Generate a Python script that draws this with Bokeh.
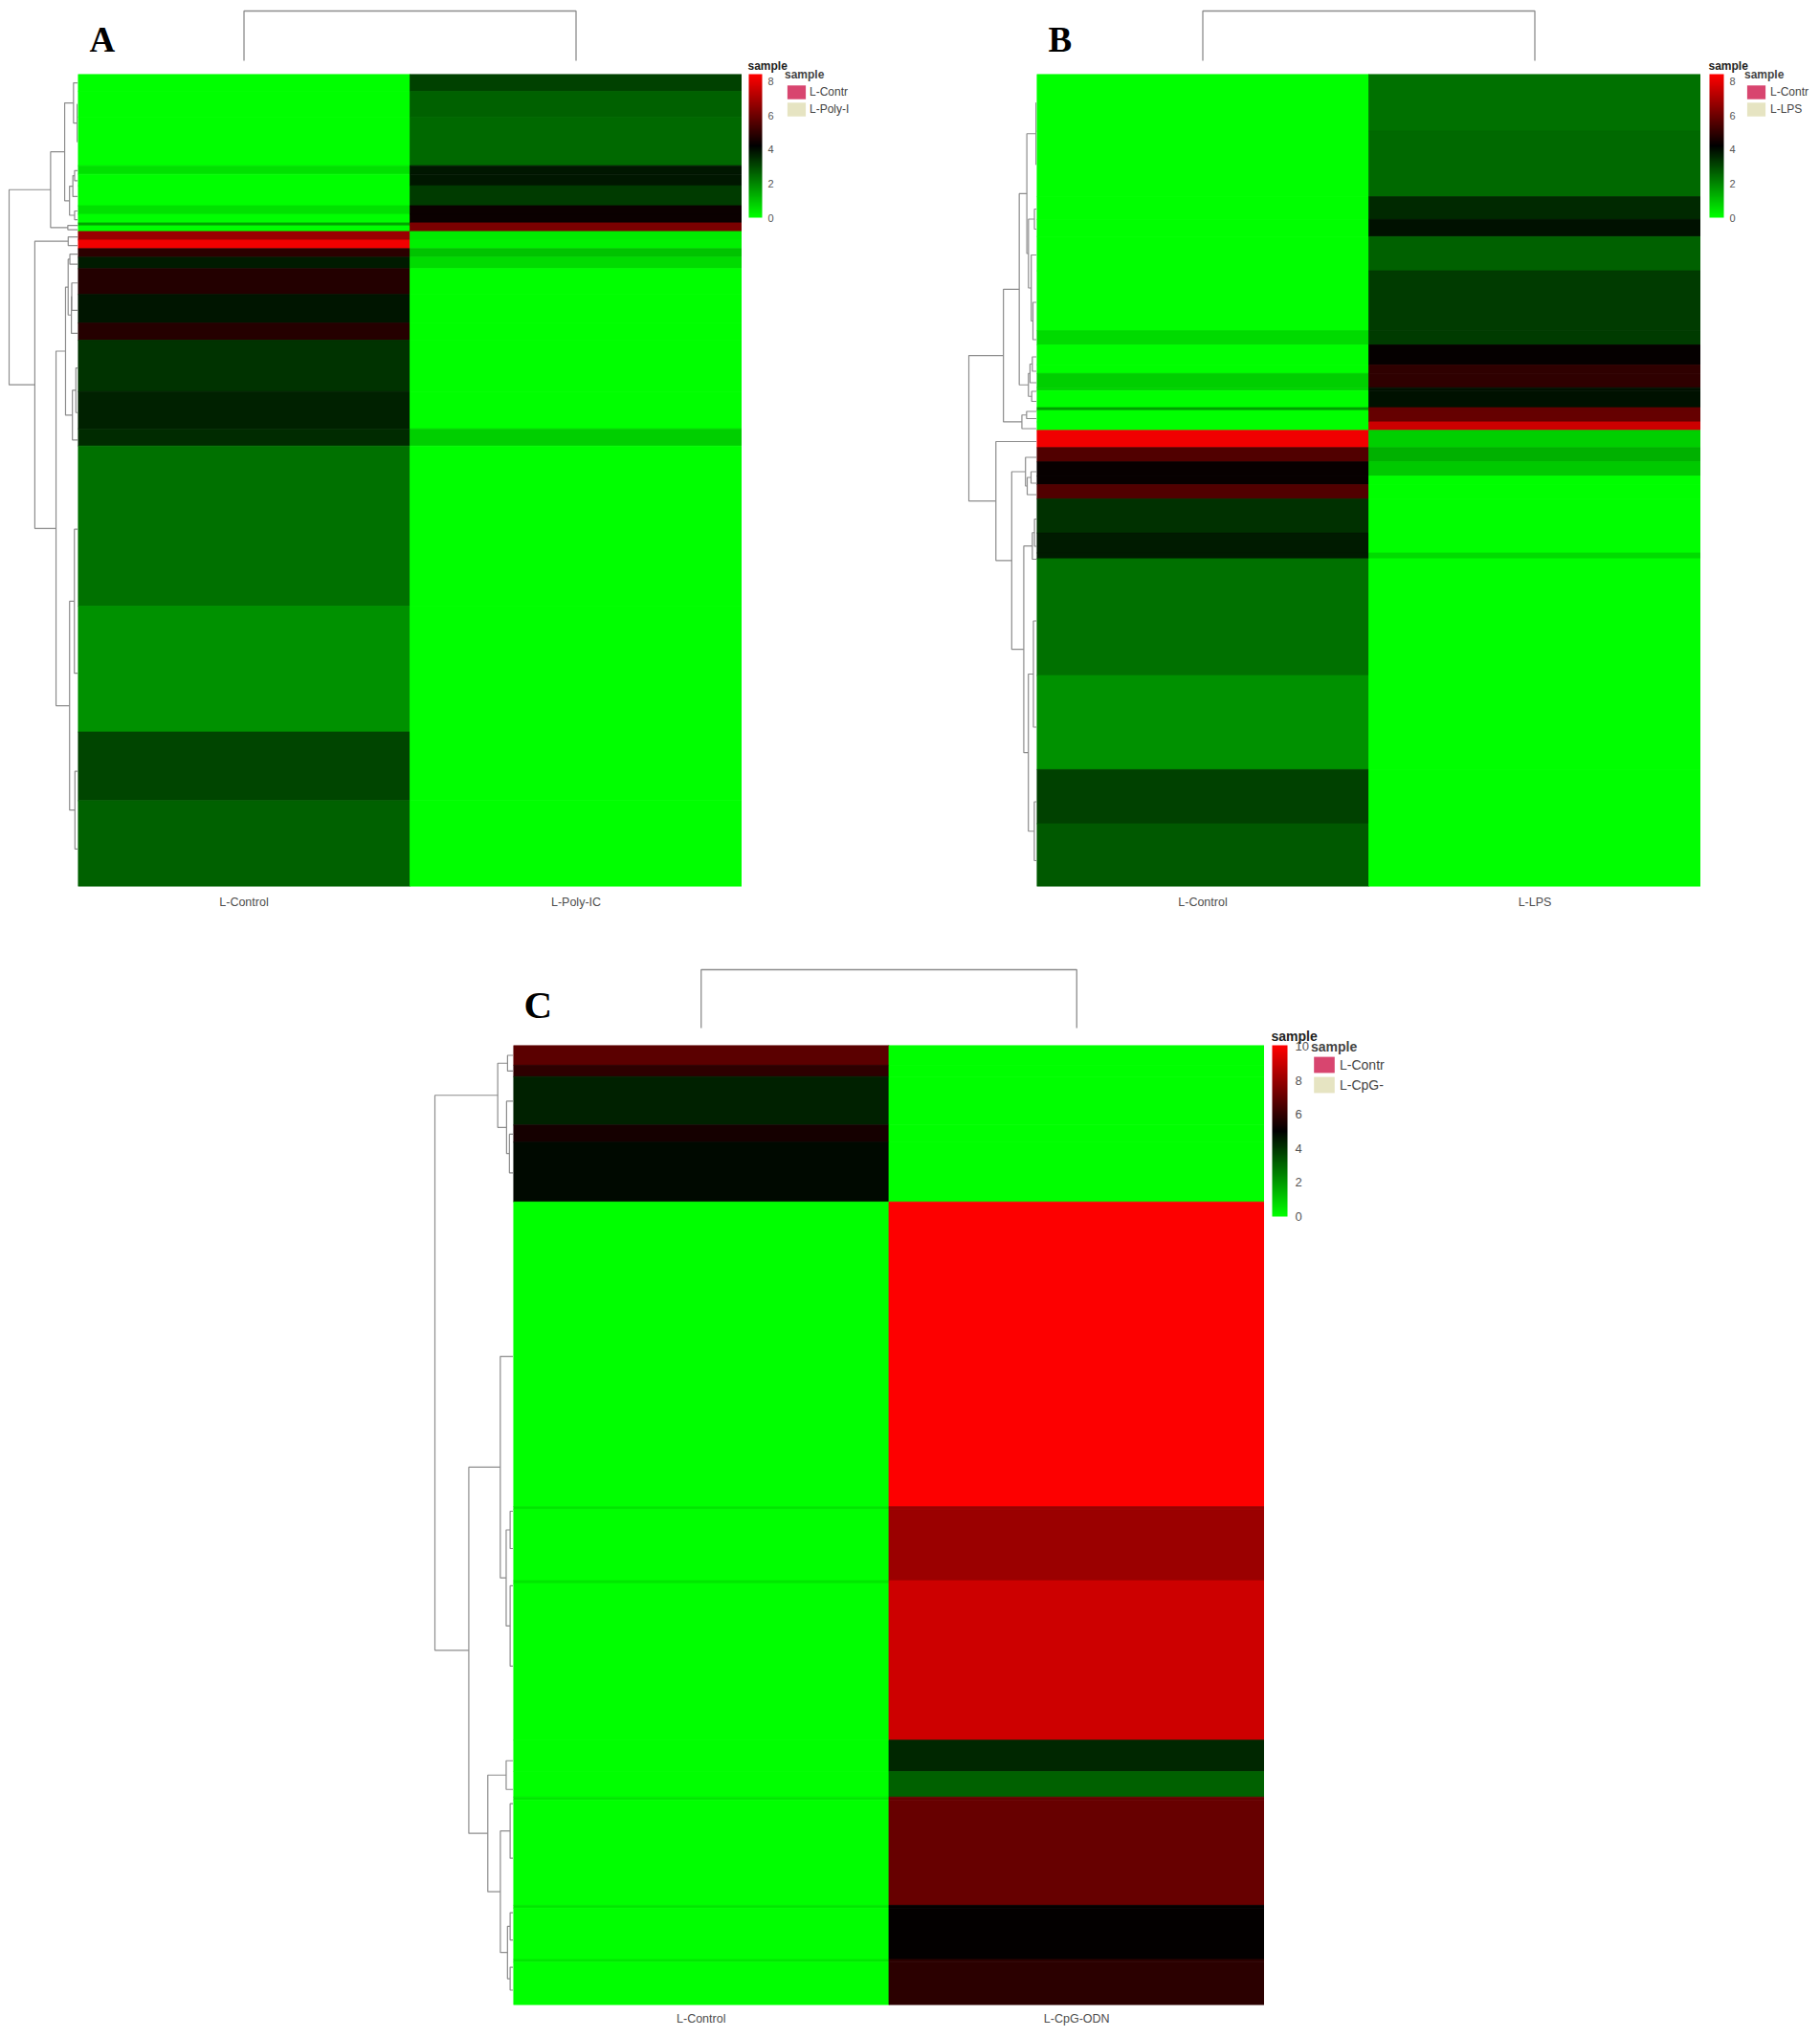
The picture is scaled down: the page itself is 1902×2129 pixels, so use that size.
import numpy as np
from bokeh.plotting import figure
from bokeh.models import (Range1d, FactorRange, LinearColorMapper, ColorBar, FixedTicker,
                          Label, Legend, LegendItem, Spacer, ColumnDataSource)
from bokeh.layouts import row, column
from bokeh.embed import file_html
from bokeh.resources import INLINE

# ---------------- data (bands of genes, top to bottom) ----------------
# Panel A : L-Control vs L-Poly-IC
a_samples = ["L-Control", "L-Poly-IC"]
a_legend = ["L-Contr", "L-Poly-I"]
a_genes = [6, 9, 17, 3, 4, 7, 3, 3, 1, 2, 3, 3, 3, 4, 9, 10, 6, 18, 13, 6, 56, 44, 24, 30]
a_control = [0, 0, 0, 0.5, 0, 0, 0.5, 0, 1.5, 0,
             6.76, 8.2, 4.92, 3.79, 4.79, 3.87, 4.84, 3.38, 3.69, 3.5,
             2.37, 1.84, 3.08, 2.63]
a_treated = [3.16, 2.63, 2.50, 3.83, 3.83, 3.26, 4.4, 4.4, 6.25, 6.25,
             0.35, 0.25, 1.0, 0.6, 0, 0, 0, 0, 0, 0.8,
             0, 0, 0, 0]
a_ticks = [0, 2, 4, 6, 8]
a_max = 8.45

# Panel B : L-Control vs L-LPS
b_samples = ["L-Control", "L-LPS"]
b_legend = ["L-Contr", "L-LPS"]
b_genes = [20, 23, 8, 6, 12, 21, 5, 7, 3, 5, 1, 6, 1, 4, 3, 6, 5, 5, 3, 5, 12, 7, 2, 41, 33, 19, 22]
b_control = [0, 0, 0, 0, 0, 0, 0.6, 0, 0, 0.8, 0.8, 0, 1.6, 0, 0,
             8.2, 5.55, 4.35, 4.35, 5.55, 3.43, 3.79, 3.79, 2.37, 1.84, 3.16, 2.77]
b_treated = [2.37, 2.5, 3.56, 3.93, 2.63, 3.26, 3.26, 4.3, 5.0, 5.0, 3.96, 3.96, 5.9, 5.9, 7.6,
             0.8, 1.3, 0.9, 0, 0, 0, 0, 0.6, 0, 0, 0, 0]
b_ticks = [0, 2, 4, 6, 8]
b_max = 8.45

# Panel C : L-Control vs L-CpG-ODN
c_samples = ["L-Control", "L-CpG-ODN"]
c_legend = ["L-Contr", "L-CpG-"]
c_genes = [7, 4, 17, 6, 21, 107, 1, 25, 1, 55, 11, 9, 1, 37, 1, 18, 1, 15]
c_control = [6.8, 5.9, 4.39, 5.44, 4.83, 0, 0.5, 0, 0.5, 0, 0, 0, 0.5, 0, 0.5, 0, 0.5, 0]
c_treated = [0, 0, 0, 0, 0, 10.0, 8.05, 8.05, 9.04, 9.04, 4.24, 3.13, 7.04, 7.04, 5.1, 5.1, 5.86, 5.86]
c_ticks = [0, 2, 4, 6, 8, 10]
c_max = 10.05

# ---------------- style ----------------
SANS = "Liberation Sans"
SERIF = "Liberation Serif"
TREE = "#8c8c8c"
PINK = "#d8456f"
PALE = "#e6e4c2"


def green_black_red(n=256):
    t = np.linspace(0, 1, n)
    r = np.clip(2 * t - 1, 0, 1) * 255
    g = np.clip(1 - 2 * t, 0, 1) * 255
    return ["#%02x%02x00" % (int(round(a)), int(round(b))) for a, b in zip(r, g)]


PALETTE = green_black_red()


def heat_table(samples, genes, ctrl, treat):
    edges = np.concatenate([[0], np.cumsum(genes)])
    mid = (edges[:-1] + edges[1:]) / 2.0
    n = len(genes)
    return dict(sample=[samples[0]] * n + [samples[1]] * n,
                mid=list(mid) * 2,
                n=list(genes) * 2,
                value=list(ctrl) + list(treat))


def row_dendrogram(genes, ctrl, treat):
    """Contiguity-constrained complete-linkage clustering of the row bands."""
    edges = np.concatenate([[0], np.cumsum(genes)])
    pts = np.column_stack([ctrl, treat]).astype(float)
    D = np.sqrt(((pts[:, None, :] - pts[None, :, :]) ** 2).sum(-1))
    clusters = [[i] for i in range(len(genes))]
    pos = list((edges[:-1] + edges[1:]) / 2.0)
    hgt = [0.0] * len(genes)
    xs, ys = [], []
    while len(clusters) > 1:
        dists = [D[np.ix_(clusters[k], clusters[k + 1])].max() for k in range(len(clusters) - 1)]
        k = int(np.argmin(dists))
        d = float(dists[k])
        xs.append([hgt[k], d, d, hgt[k + 1]])
        ys.append([pos[k], pos[k], pos[k + 1], pos[k + 1]])
        clusters[k:k + 2] = [clusters[k] + clusters[k + 1]]
        pos[k:k + 2] = [(pos[k] + pos[k + 1]) / 2.0]
        hgt[k:k + 2] = [d]
    return xs, ys, hgt[0]


def bare(fig):
    fig.xgrid.visible = False
    fig.ygrid.visible = False
    fig.outline_line_color = None
    return fig


def make_panel(letter, samples, legend_labels, genes, ctrl, treat, vmax, ticks, c):
    N = int(np.sum(genes))
    xr = FactorRange(*samples)
    yr = Range1d(N, 0)
    mapper = LinearColorMapper(palette=PALETTE, low=0, high=vmax)

    # heatmap
    heat = figure(width=c["heat_w"], height=c["heat_h"] + c["label_h"], x_range=xr, y_range=yr,
                  output_backend="svg", toolbar_location=None, y_axis_location=None,
                  min_border=0, min_border_bottom=c["label_h"])
    bare(heat)
    src = ColumnDataSource(heat_table(samples, genes, ctrl, treat))
    cmap = {"field": "value", "transform": mapper}
    heat.rect(x="sample", y="mid", width=1, height="n", source=src,
              fill_color=cmap, line_color=cmap, line_width=0.8)
    ax = heat.xaxis[0]
    ax.axis_line_color = None
    ax.major_tick_line_color = None
    ax.minor_tick_line_color = None
    ax.major_label_standoff = c["lab_standoff"]
    ax.major_label_text_font = SANS
    ax.major_label_text_font_size = c["lab_font"]
    ax.major_label_text_color = "#4d4d4d"

    # column dendrogram (top)
    colvals = np.array([ctrl, treat], dtype=float)
    dcol = float(np.sqrt(np.sum(np.array(genes) * (colvals[0] - colvals[1]) ** 2)))
    span = c["top_h"] - c["top_gap_top"] - c["top_gap_bottom"]
    top = figure(width=c["heat_w"], height=c["top_h"], x_range=xr,
                 y_range=Range1d(-dcol * c["top_gap_bottom"] / span, dcol * (1 + c["top_gap_top"] / span)),
                 output_backend="svg", toolbar_location=None, x_axis_location=None,
                 y_axis_location=None, min_border=0)
    bare(top)
    top.multi_line(xs=[[samples[0], samples[0], samples[1], samples[1]]], ys=[[0, dcol, dcol, 0]],
                   line_color=TREE, line_width=1.3)
    top.add_layout(Label(x=c["letter_x"], y=c["letter_y"], x_units="screen", y_units="screen",
                         text=letter, text_font=SERIF, text_font_style="bold",
                         text_font_size=c["letter_font"], text_color="black"))

    # row dendrogram (left)
    xs, ys, root = row_dendrogram(genes, ctrl, treat)
    w = c["dendro_w"]
    left = figure(width=w, height=c["heat_h"], y_range=yr,
                  x_range=Range1d(root * w / (w - c["root_px"]), 0),
                  output_backend="svg", toolbar_location=None, x_axis_location=None,
                  y_axis_location=None, min_border=0)
    bare(left)
    left.multi_line(xs=xs, ys=ys, line_color=TREE, line_width=1.2)

    # side: colour bar and sample legend
    side_h = c["top_h"] + c["heat_h"] + c["label_h"]
    side = figure(width=c["side_w"], height=side_h, x_range=Range1d(0, 1), y_range=Range1d(0, 1),
                  output_backend="svg", toolbar_location=None, x_axis_location=None,
                  y_axis_location=None, min_border=0)
    bare(side)
    cb = ColorBar(color_mapper=mapper, ticker=FixedTicker(ticks=ticks),
                  width=c["cb_w"], height=c["cb_h"],
                  location=(c["cb_x"], c["label_h"] + c["heat_h"] - c["cb_h"]),
                  padding=0, label_standoff=c["cb_standoff"], major_label_text_font=SANS,
                  major_label_text_font_size=c["tick_font"], major_label_text_color="#555555",
                  major_tick_line_color=None, minor_tick_line_color=None,
                  bar_line_color=None, border_line_color=None, background_fill_alpha=0)
    side.add_layout(cb)
    side.add_layout(Label(x=c["cb_x"] - 1, y=c["label_h"] + c["heat_h"] + c["cb_title_gap"],
                          x_units="screen", y_units="screen", text="sample",
                          text_font=SANS, text_font_style="bold", text_font_size=c["title_font"],
                          text_color="#222222"))
    r1 = side.rect(x=[-5], y=[-5], width=1, height=1, fill_color=PINK, line_color=None)
    r2 = side.rect(x=[-5], y=[-5], width=1, height=1, fill_color=PALE, line_color=None)
    leg = Legend(items=[LegendItem(label=legend_labels[0], renderers=[r1]),
                        LegendItem(label=legend_labels[1], renderers=[r2])],
                 location=(c["leg_x"], c["label_h"] + c["heat_h"] - c["leg_off"]),
                 title="sample", title_text_font=SANS, title_text_font_style="bold",
                 title_text_font_size=c["title_font"], title_standoff=c["title_standoff"],
                 label_text_font=SANS, label_text_font_size=c["leg_font"], label_text_color="#444444",
                 glyph_width=c["glyph"][0], glyph_height=c["glyph"][1], label_height=c["glyph"][1] - 3,
                 label_standoff=c["leg_standoff"], spacing=-3, padding=0, margin=0,
                 border_line_alpha=0, background_fill_alpha=0)
    side.add_layout(leg)

    return [column(Spacer(width=w, height=c["top_h"]), left),
            column(top, heat),
            side]


cfg_a = dict(dendro_w=73, root_px=1, heat_w=694, heat_h=855, top_h=69, top_gap_top=3,
             top_gap_bottom=14, label_h=20, lab_font="12.5px", lab_standoff=3,
             letter_x=12, letter_y=16, letter_font="37px",
             side_w=235, cb_x=7, cb_w=14, cb_h=150, cb_standoff=6, cb_title_gap=2,
             leg_x=45, leg_off=46, leg_font="12px", tick_font="11px", title_font="12px",
             title_standoff=2, glyph=(24, 18), leg_standoff=2)
cfg_b = dict(cfg_a, side_w=117, cb_x=9, cb_w=15, leg_x=46, leg_standoff=3, root_px=2)
cfg_c = dict(dendro_w=86, root_px=4, heat_w=785, heat_h=1010, top_h=93, top_gap_top=14,
             top_gap_bottom=18, label_h=17, lab_font="12.5px", lab_standoff=1,
             letter_x=11, letter_y=20, letter_font="41px",
             side_w=200, cb_x=8, cb_w=16, cb_h=179, cb_standoff=8, cb_title_gap=2,
             leg_x=49, leg_off=52, leg_font="14px", tick_font="13px", title_font="14px",
             title_standoff=0, glyph=(27, 21), leg_standoff=3)

pa = make_panel("A", a_samples, a_legend, a_genes, a_control, a_treated, a_max, a_ticks, cfg_a)
pb = make_panel("B", b_samples, b_legend, b_genes, b_control, b_treated, b_max, b_ticks, cfg_b)
pc = make_panel("C", c_samples, c_legend, c_genes, c_control, c_treated, c_max, c_ticks, cfg_c)

row1 = row(Spacer(width=8, height=10), *pa, *pb)
row2 = row(Spacer(width=450, height=10), *pc)
page = column(Spacer(width=10, height=8), row1, Spacer(width=10, height=47), row2)

open("out.html", "w").write(file_html(page, INLINE))
